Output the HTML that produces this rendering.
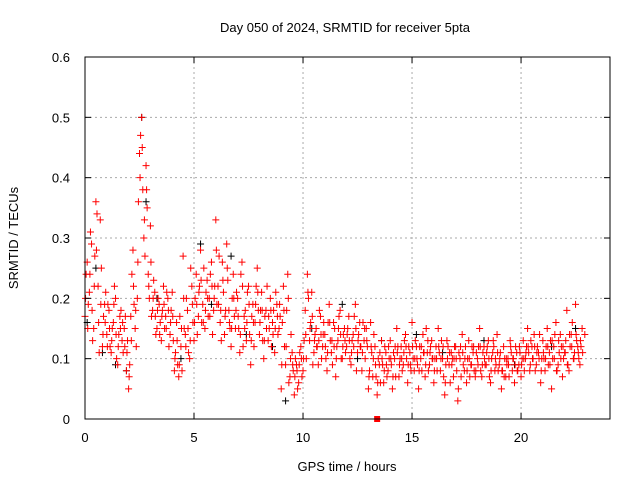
<!DOCTYPE html>
<html><head><meta charset="utf-8"><style>
body{margin:0;background:#fff}
svg{display:block;font-family:"Liberation Sans",sans-serif}
</style></head><body>
<svg id="chart" width="640" height="480">
<text x="345" y="32" text-anchor="middle" font-size="13">Day 050 of 2024, SRMTID for receiver 5pta</text>
<text x="347" y="471" text-anchor="middle" font-size="13">GPS time / hours</text>
<text transform="translate(18,238) rotate(-90)" text-anchor="middle" font-size="13">SRMTID / TECUs</text>
<g id="grid"></g><g id="marks"></g><g id="axes"></g>
</svg>
<script>
const xTicks=[0,5,10,15,20];
const yTicks=[0,0.1,0.2,0.3,0.4,0.5,0.6];
const yTickLabels=["0","0.1","0.2","0.3","0.4","0.5","0.6"];
const redA=[.17,.26,.21,.29,.15,.36,.22,.33,.12,.19,.14,.18,.11,.16,.20,.09,.17,.13,.15,.08,.05,.17,.28,.15,.20,.44,.50,.30,.42,.24,.32,.18,.21,.15,.19,.13,.22,.17,.20,.14,.21,.08,.16,.07,.12,.27,.14,.18,.10,.22,.13,.24,.17,.28,.19,.15,.23,.20,.26,.18,.33,.22,.16,.26,.14,.29,.18,.12,.24,.15,.20,.11,.26,.17,.13,.22,.09,.19,.16,.25,.14,.21,.10,.18,.13,.20,.16,.11,.19,.15,.05,.22,.09,.24,.07,.11,.04,.09,.06,.12,.08,.18,.24,.13,.21,.11,.15,.09,.17,.12,.14,.08,.19,.11,.16,.07,.13,.18,.10,.15,.12,.17,.09,.14,.19,.11,.16,.08,.13,.15,.05,.16,.07,.12,.04,.09,.13,.06,.11,.08,.13,.05,.10,.15,.07,.12,.09,.14,.06,.11,.16,.08,.12,.05,.10,.14,.07,.11,.09,.13,.06,.12,.15,.08,.10,.04,.13,.09,.11,.07,.12,.03,.10,.14,.08,.06,.13,.09,.11,.07,.10,.15,.07,.12,.09,.13,.06,.11,.08,.14,.09,.05,.12,.07,.10,.13,.08,.06,.11,.09,.07,.13,.10,.15,.08,.12,.14,.09,.11,.06,.13,.08,.15,.11,.05,.12,.16,.09,.14,.07,.11,.18,.08,.14,.10,.19,.12,.09,.15];
const redB=[.24,.19,.31,.13,.27,.34,.11,.25,.17,.21,.19,.12,.15,.22,.10,.14,.18,.11,.17,.13,.09,.24,.19,.12,.36,.47,.38,.27,.35,.20,.17,.23,.14,.20,.16,.18,.15,.21,.12,.18,.13,.11,.09,.17,.08,.15,.20,.11,.25,.16,.20,.14,.22,.16,.25,.21,.17,.24,.14,.22,.19,.27,.13,.21,.18,.23,.15,.20,.17,.21,.15,.24,.12,.18,.21,.14,.17,.12,.22,.18,.18,.13,.17,.22,.15,.12,.18,.21,.14,.17,.16,.12,.18,.06,.14,.08,.10,.05,.11,.07,.13,.10,.20,.16,.09,.14,.12,.18,.10,.16,.10,.16,.13,.09,.15,.12,.17,.10,.14,.11,.15,.10,.13,.17,.08,.14,.12,.16,.10,.12,.08,.11,.14,.07,.10,.06,.09,.12,.07,.10,.09,.11,.07,.12,.10,.08,.13,.10,.12,.08,.10,.13,.09,.12,.08,.11,.15,.08,.12,.10,.10,.08,.11,.13,.07,.09,.12,.06,.10,.12,.08,.11,.07,.09,.12,.10,.07,.12,.08,.11,.12,.08,.11,.09,.12,.07,.10,.12,.09,.08,.11,.08,.10,.09,.07,.11,.10,.12,.08,.11,.10,.08,.12,.11,.13,.10,.08,.12,.14,.10,.10,.12,.09,.13,.10,.14,.08,.11,.12,.10,.13,.09,.12,.16,.11,.13,.10,.12];
const redC=[.20,.15,.24,.18,.22,.28,.16,.19,.14,.16,.12,.15,.13,.19,.14,.12,.15,.16,.12,.11,.07,.13,.22,.18,.26,.40,.45,.33,.38,.22,.26,.20,.17,.18,.14,.17,.19,.15,.18,.16,.17,.10,.13,.09,.15,.20,.12,.15,.13,.19,.16,.19,.21,.23,.16,.18,.20,.17,.22,.20,.28,.19,.18,.23,.17,.25,.16,.15,.20,.18,.17,.14,.22,.15,.16,.19,.13,.16,.19,.21,.16,.18,.13,.15,.17,.18,.14,.15,.17,.19,.09,.18,.12,.20,.10,.09,.07,.08,.09,.10,.10,.14,.21,.15,.17,.13,.12,.13,.14,.14,.12,.11,.16,.13,.12,.10,.15,.14,.12,.13,.14,.13,.11,.12,.15,.13,.12,.11,.15,.13,.07,.12,.10,.09,.06,.11,.10,.08,.09,.12,.10,.07,.12,.11,.09,.10,.11,.12,.09,.09,.12,.10,.10,.08,.12,.11,.09,.13,.11,.10,.08,.10,.12,.10,.12,.06,.10,.11,.09,.10,.10,.05,.12,.11,.10,.08,.10,.09,.12,.08,.09,.12,.09,.10,.11,.10,.08,.13,.10,.11,.10,.08,.07,.10,.09,.12,.10,.09,.08,.12,.09,.10,.11,.12,.09,.10,.12,.11,.10,.08,.11,.10,.12,.09,.13,.10,.08,.13,.10,.12,.11,.09,.14,.12,.10,.14,.11,.13,.11,.14];
const blackT=[0.1,0.5,0.8,1.4,1.9,2.6,2.8,3.3,4.4,5.3,5.8,6.7,7.4,8.6,9.2,10.4,11.8,12.5,13.6,15.2,16.4,18.3,19.7,21.4,22.5];
const blackV=[0.16,0.25,0.11,0.09,0.08,0.50,0.36,0.20,0.10,0.29,0.19,0.27,0.14,0.12,0.03,0.15,0.19,0.10,0.13,0.14,0.11,0.13,0.09,0.12,0.15];
const stepA=0.1, offB=0.05, offC=0.025;
const X=t=>85+t*(525/24.08), Y=v=>419-v*(362/0.6);
const NS="http://www.w3.org/2000/svg";
const g=document.getElementById('grid'),m=document.getElementById('marks'),a=document.getElementById('axes');
function el(p,tag,at){const e=document.createElementNS(NS,tag);for(const k in at)e.setAttribute(k,at[k]);p.appendChild(e);return e;}
xTicks.forEach(t=>{if(t>0){const l=el(g,'line',{x1:X(t),x2:X(t),y1:57,y2:419,stroke:'#aaa','stroke-dasharray':'2,3'});

}
el(a,'line',{x1:X(t),x2:X(t),y1:419,y2:413,stroke:'#000'});el(a,'line',{x1:X(t),x2:X(t),y1:57,y2:63,stroke:'#000'});
const tx=el(a,'text',{x:X(t),y:442,'text-anchor':'middle','font-size':13});tx.textContent=t;

});
yTicks.forEach((v,i)=>{if(v>0&&v<0.6){const l=el(g,'line',{x1:85,x2:610,y1:Y(v),y2:Y(v),stroke:'#aaa','stroke-dasharray':'2,3'});

}
el(a,'line',{x1:85,x2:91,y1:Y(v),y2:Y(v),stroke:'#000'});el(a,'line',{x1:610,x2:604,y1:Y(v),y2:Y(v),stroke:'#000'});
const tx=el(a,'text',{x:70,y:Y(v)+5,'text-anchor':'end','font-size':13});tx.textContent=yTickLabels[i];

});
const fr=el(a,'rect',{x:85,y:57,width:525,height:362,fill:'none',stroke:'#000'});


function plus(t,v,c,name){const x=X(t),y=Y(v);const p=el(m,'path',{d:`M${x-3.5},${y}h7M${x},${y-3.5}v7`,stroke:c,'stroke-width':1});

}
blackT.forEach((t,i)=>plus(t,blackV[i],'#000','black-point'));
redA.forEach((v,i)=>plus(i*stepA,v,'#f00','red-point'));
redB.forEach((v,i)=>plus(i*stepA+offB,v,'#f00','red-point'));
redC.forEach((v,i)=>plus(i*stepA+offC,v,'#f00','red-point'));
const sq=el(m,'rect',{x:X(13.4)-3,y:Y(0)-3,width:6,height:6,fill:'#f00'});


</script>
</body></html>
